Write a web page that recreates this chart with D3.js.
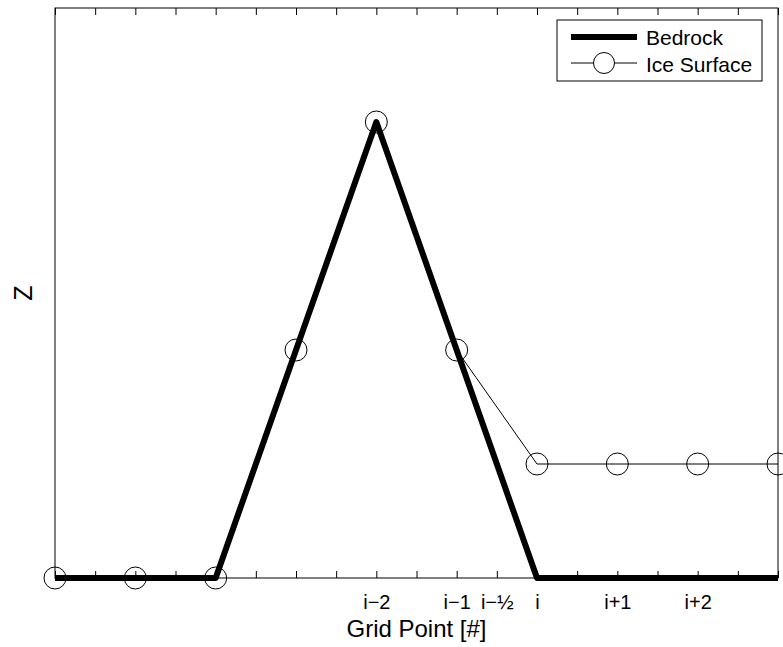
<!DOCTYPE html>
<html>
<head>
<meta charset="utf-8">
<script src="https://cdn.jsdelivr.net/npm/d3@7"></script>
<style>
  html, body { margin: 0; padding: 0; background: #fff; }
  svg { display: block; font-family: "Liberation Sans", Arial, Helvetica, sans-serif; }
</style>
</head>
<body>
<svg id="chart" width="783" height="647"></svg>
<script>
// Grid positions are relative to point i (i = 0)
const bedrockX = [-6, -4, -2, 0, 3];
const bedrockZ = [0, 0, 4, 0, 0];
const iceX = [-6, -5, -4, -3, -2, -1, 0, 1, 2, 3];
const iceZ = [0, 0, 0, 2, 4, 2, 1, 1, 1, 1];
const tickValues = d3.range(-6, 3.01, 0.5);
const tickLabelValues = [-2, -1, -0.5, 0, 1, 2];
const tickLabelTexts = ["i\u22122", "i\u22121", "i\u2212\u00BD", "i", "i+1", "i+2"];
const xDomain = [-6, 3];
const zDomain = [0, 5];

const margin = { left: 55, right: 5, top: 8, bottom: 69 };
const W = 783, H = 647;
const svg = d3.select("#chart");

const x = d3.scaleLinear().domain(xDomain).range([margin.left, W - margin.right]);
const y = d3.scaleLinear().domain(zDomain).range([H - margin.bottom, margin.top]);

const labelFor = v => {
  const k = tickLabelValues.findIndex(t => Math.abs(t - v) < 1e-9);
  return k >= 0 ? tickLabelTexts[k] : "";
};

// bottom axis (ticks point inward)
const xAxis = d3.axisBottom(x).tickValues(tickValues).tickSizeInner(-7).tickSizeOuter(0)
  .tickFormat(labelFor);
const gx = svg.append("g").attr("transform", `translate(0,${y(0)})`).call(xAxis);
gx.select(".domain").remove();
gx.selectAll(".tick line").attr("stroke", "#000");
gx.selectAll(".tick text")
  .attr("y", 31).attr("dy", 0)
  .attr("font-size", 20).attr("fill", "#000")
  .attr("font-family", "'Liberation Sans', Arial, sans-serif");

// top axis mirrors the bottom ticks
const xTop = d3.axisTop(x).tickValues(tickValues).tickSizeInner(-7).tickSizeOuter(0).tickFormat("");
const gt = svg.append("g").attr("transform", `translate(0,${y(5)})`).call(xTop);
gt.select(".domain").remove();
gt.selectAll(".tick line").attr("stroke", "#000");

// axes frame
svg.append("rect")
  .attr("x", x(-6)).attr("y", y(5))
  .attr("width", x(3) - x(-6)).attr("height", y(0) - y(5))
  .attr("fill", "none").attr("stroke", "#000").attr("stroke-width", 1);

const line = d3.line().x(d => x(d[0])).y(d => y(d[1]));

// bedrock profile
svg.append("path")
  .datum(bedrockX.map((v, i) => [v, bedrockZ[i]]))
  .attr("d", line)
  .attr("fill", "none").attr("stroke", "#000").attr("stroke-width", 6)
  .attr("stroke-linejoin", "round").attr("stroke-linecap", "butt");

// ice surface with markers
const icePts = iceX.map((v, i) => [v, iceZ[i]]);
svg.append("path")
  .datum(icePts)
  .attr("d", line)
  .attr("fill", "none").attr("stroke", "#000").attr("stroke-width", 1);
svg.append("g").selectAll("circle").data(icePts).join("circle")
  .attr("cx", d => x(d[0])).attr("cy", d => y(d[1])).attr("r", 11)
  .attr("fill", "none").attr("stroke", "#000").attr("stroke-width", 1);

// axis titles
svg.append("text")
  .attr("x", (x(-6) + x(3)) / 2).attr("y", 637)
  .attr("text-anchor", "middle").attr("font-size", 24).attr("fill", "#000")
  .text("Grid Point [#]");
svg.append("text")
  .attr("transform", `translate(32,${(y(0) + y(5)) / 2}) rotate(-90)`)
  .attr("text-anchor", "middle").attr("font-size", 25).attr("fill", "#000")
  .text("Z");

// legend
const lg = svg.append("g").attr("transform", "translate(557,20)");
lg.append("rect").attr("width", 205).attr("height", 61)
  .attr("fill", "#fff").attr("stroke", "#000").attr("stroke-width", 1);
lg.append("line").attr("x1", 14).attr("x2", 80).attr("y1", 17).attr("y2", 17)
  .attr("stroke", "#000").attr("stroke-width", 6);
lg.append("text").attr("x", 89).attr("y", 25).attr("font-size", 21).attr("fill", "#000").text("Bedrock");
lg.append("line").attr("x1", 14).attr("x2", 80).attr("y1", 43).attr("y2", 43)
  .attr("stroke", "#000").attr("stroke-width", 1);
lg.append("circle").attr("cx", 47).attr("cy", 43).attr("r", 10.5)
  .attr("fill", "#fff").attr("stroke", "#000").attr("stroke-width", 1);
lg.append("text").attr("x", 89).attr("y", 52).attr("font-size", 21).attr("fill", "#000").text("Ice Surface");
</script>
</body>
</html>
